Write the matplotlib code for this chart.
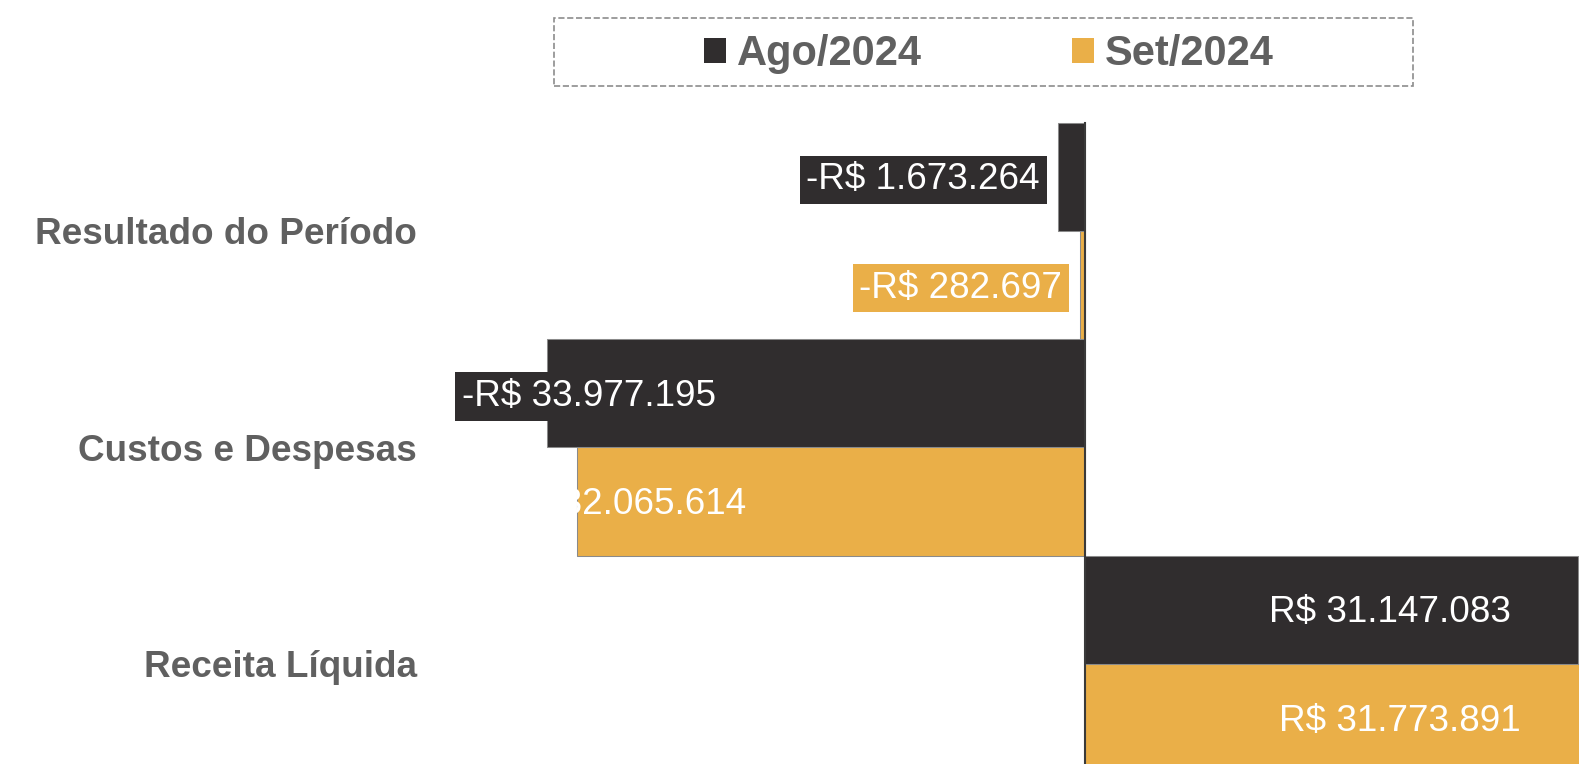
import numpy as np
import matplotlib.pyplot as plt
from matplotlib.patches import Patch, Rectangle
from matplotlib.transforms import blended_transform_factory

plt.rcParams['font.family'] = ['Liberation Sans', 'DejaVu Sans']

# dados
categorias = ['Resultado do Período', 'Custos e Despesas', 'Receita Líquida']
series = ['Ago/2024', 'Set/2024']
ago = [-1673264, -33977195, 31147083]
setb = [-282697, -32065614, 31773891]

cores = ['#302D2E', '#EAAF48']
cinza = '#606060'

def brl(v):
    s = f'{abs(v):,}'.replace(',', '.')
    return ('-R$ ' if v < 0 else 'R$ ') + s

W, H = 1579, 764
fig = plt.figure(figsize=(W / 100, H / 100), dpi=100)
ax = fig.add_axes([0, 0, 1, 1])
ax.axis('off')

y = np.arange(len(categorias))
h = 0.5
valores = [ago, setb]
for i, vals in enumerate(valores):
    ax.barh(y - h / 2 + i * h, vals, height=h, color=cores[i],
            edgecolor='#8a8a8a', linewidth=0.75, zorder=2)

ax.plot([0, 0], [-0.5, 2.5], color='#3a3a3a', lw=1.5, zorder=3)

# escala: zero em ~1084 px, 15.83 px por milhão
ax.set_xlim(-68.52e6, 31.24e6)
ax.set_ylim(2.462, -1.067)

# rótulos de valor (deslocamento em pixels a partir do fim da barra)
desloc = [-18, 169, -67]
for i, vals in enumerate(valores):
    for k, v in enumerate(vals):
        com_caixa = not (i == 1 and k == 1)
        bbox = dict(boxstyle='square,pad=0.18', fc=cores[i], ec='none') if com_caixa else None
        ax.annotate(brl(v), xy=(v, y[k] - h / 2 + i * h), xytext=(desloc[k], -3),
                    textcoords='offset pixels', ha='right', va='center',
                    color='white', fontsize=26.6, bbox=bbox, zorder=4,
                    annotation_clip=False)

# rótulos das categorias
tr = blended_transform_factory(ax.transAxes, ax.transData)
for k, c in enumerate(categorias):
    ax.annotate(c, xy=(417 / W, y[k]), xycoords=tr, xytext=(0, -4),
                textcoords='offset pixels', ha='right', va='center',
                fontsize=26.6, fontweight='bold', color=cinza)

# legenda
handles = [Patch(facecolor=cores[i], edgecolor='none', label=series[i]) for i in range(2)]
leg = fig.legend(handles=handles, loc='center', bbox_to_anchor=(989 / W, 1 - 54 / H),
                 ncol=2, frameon=False, fontsize=30, handlelength=0.53, handleheight=0.53,
                 handletextpad=0.26, columnspacing=3.6)
for t in leg.get_texts():
    t.set_color(cinza)
    t.set_fontweight('bold')
fig.patches.append(Rectangle((554 / W, 1 - 86 / H), 859 / W, 68 / H, transform=fig.transFigure,
                             fill=False, edgecolor='#8c8c8c', linestyle='--', linewidth=1.2))

fig.savefig('out.png', dpi=100)
